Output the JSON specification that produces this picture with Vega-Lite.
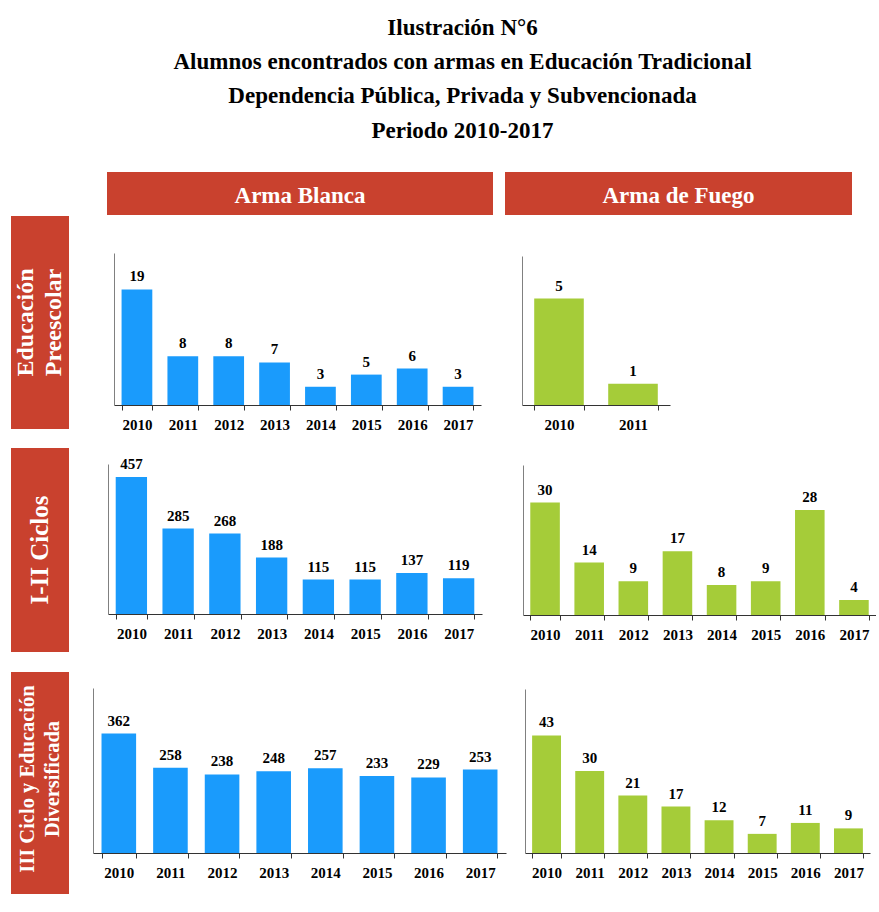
{
  "$schema": "https://vega.github.io/schema/vega-lite/v6.json",
  "padding": {"left": 11, "top": 0, "right": 0, "bottom": 0},
  "spacing": 0,
  "datasets": {
    "pb": [{"anio": 2010, "valor": 19}, {"anio": 2011, "valor": 8}, {"anio": 2012, "valor": 8}, {"anio": 2013, "valor": 7}, {"anio": 2014, "valor": 3}, {"anio": 2015, "valor": 5}, {"anio": 2016, "valor": 6}, {"anio": 2017, "valor": 3}],
    "pf": [{"anio": 2010, "valor": 5}, {"anio": 2011, "valor": 1}],
    "ib": [{"anio": 2010, "valor": 457}, {"anio": 2011, "valor": 285}, {"anio": 2012, "valor": 268}, {"anio": 2013, "valor": 188}, {"anio": 2014, "valor": 115}, {"anio": 2015, "valor": 115}, {"anio": 2016, "valor": 137}, {"anio": 2017, "valor": 119}],
    "if": [{"anio": 2010, "valor": 30}, {"anio": 2011, "valor": 14}, {"anio": 2012, "valor": 9}, {"anio": 2013, "valor": 17}, {"anio": 2014, "valor": 8}, {"anio": 2015, "valor": 9}, {"anio": 2016, "valor": 28}, {"anio": 2017, "valor": 4}],
    "tb": [{"anio": 2010, "valor": 362}, {"anio": 2011, "valor": 258}, {"anio": 2012, "valor": 238}, {"anio": 2013, "valor": 248}, {"anio": 2014, "valor": 257}, {"anio": 2015, "valor": 233}, {"anio": 2016, "valor": 229}, {"anio": 2017, "valor": 253}],
    "tf": [{"anio": 2010, "valor": 43}, {"anio": 2011, "valor": 30}, {"anio": 2012, "valor": 21}, {"anio": 2013, "valor": 17}, {"anio": 2014, "valor": 12}, {"anio": 2015, "valor": 7}, {"anio": 2016, "valor": 11}, {"anio": 2017, "valor": 9}],
    "empty": []
  },
  "vconcat": [
    {"spacing": 0, "hconcat": [
      {"width": 59, "height": 172, "data": {"name": "empty"}, "mark": "point"},
      {"width": 785, "height": 172,
       "data": {"values": [{"i": 1, "t": "Ilustración N°6"}, {"i": 2, "t": "Alumnos encontrados con armas en Educación Tradicional"}, {"i": 3, "t": "Dependencia Pública, Privada y Subvencionada"}, {"i": 4, "t": "Periodo 2010-2017"}]},
       "mark": {"type": "text", "font": "Liberation Serif", "fontWeight": "bold", "fontSize": 23, "color": "#000000"},
       "encoding": {"y": {"field": "i", "type": "ordinal", "scale": {"type": "point", "padding": 1.146, "align": 0.4}, "axis": null}, "text": {"field": "t", "type": "nominal"}}}
    ]},
    {"spacing": 0, "hconcat": [
      {"width": 96, "height": 44, "data": {"name": "empty"}, "mark": "point"},
      {"width": 386, "height": 43, "view": {"fill": "#c9412e", "stroke": null},
       "data": {"values": [{"t": "Arma Blanca"}]},
       "mark": {"type": "text", "font": "Liberation Serif", "fontWeight": "bold", "fontSize": 23, "color": "#ffffff", "dy": 2},
       "encoding": {"text": {"field": "t", "type": "nominal"}}},
      {"width": 12, "height": 1, "data": {"name": "empty"}, "mark": "point"},
      {"width": 347, "height": 43, "view": {"fill": "#c9412e", "stroke": null},
       "data": {"values": [{"t": "Arma de Fuego"}]},
       "mark": {"type": "text", "font": "Liberation Serif", "fontWeight": "bold", "fontSize": 23, "color": "#ffffff", "dy": 2},
       "encoding": {"text": {"field": "t", "type": "nominal"}}}
    ]},
    {"spacing": 0, "hconcat": [
      {"spacing": 0, "vconcat": [
        {"width": 58, "height": 213, "view": {"fill": "#c9412e", "stroke": null},
         "data": {"values": [{"t": ["Educación", "Preescolar"]}]},
         "mark": {"type": "text", "font": "Liberation Serif", "fontWeight": "bold", "fontSize": 24, "color": "#ffffff", "angle": 270, "lineHeight": 28, "dy": -14},
         "encoding": {"text": {"field": "t", "type": "nominal"}}},
        {"width": 1, "height": 19, "data": {"name": "empty"}, "mark": "point"}
      ]},
      {"width": 45, "height": 1, "data": {"name": "empty"}, "mark": "point"},
      {"spacing": 0, "vconcat": [
        {"width": 1, "height": 37, "data": {"name": "empty"}, "mark": "point"},
        {"width": 367, "height": 152, "data": {"name": "pb"},
         "encoding": {
           "x": {"field": "anio", "type": "ordinal", "title": null, "scale": {"paddingInner": 0.33, "paddingOuter": 0.165}},
           "y": {"field": "valor", "type": "quantitative", "title": null, "scale": {"domain": [0, 25], "nice": false}}},
         "layer": [
           {"mark": {"type": "bar", "color": "#1a9bfc"}},
           {"mark": {"type": "text", "dy": -8, "baseline": "alphabetic", "font": "Liberation Serif", "fontWeight": "bold", "fontSize": 15, "color": "#000000"}, "encoding": {"text": {"field": "valor", "type": "quantitative"}}}
         ]}
      ]},
      {"width": 41, "height": 1, "data": {"name": "empty"}, "mark": "point"},
      {"spacing": 0, "vconcat": [
        {"width": 1, "height": 40, "data": {"name": "empty"}, "mark": "point"},
        {"width": 148, "height": 149, "data": {"name": "pf"},
         "encoding": {
           "x": {"field": "anio", "type": "ordinal", "title": null, "scale": {"paddingInner": 0.33, "paddingOuter": 0.165}},
           "y": {"field": "valor", "type": "quantitative", "title": null, "scale": {"domain": [0, 7], "nice": false}}},
         "layer": [
           {"mark": {"type": "bar", "color": "#a5cc39"}},
           {"mark": {"type": "text", "dy": -8, "baseline": "alphabetic", "font": "Liberation Serif", "fontWeight": "bold", "fontSize": 15, "color": "#000000"}, "encoding": {"text": {"field": "valor", "type": "quantitative"}}}
         ]}
      ]}
    ]},
    {"spacing": 0, "hconcat": [
      {"spacing": 0, "vconcat": [
        {"width": 58, "height": 204, "view": {"fill": "#c9412e", "stroke": null},
         "data": {"values": [{"t": "I-II Ciclos"}]},
         "mark": {"type": "text", "font": "Liberation Serif", "fontWeight": "bold", "fontSize": 25, "color": "#ffffff", "angle": 270},
         "encoding": {"text": {"field": "t", "type": "nominal"}}},
        {"width": 1, "height": 20, "data": {"name": "empty"}, "mark": "point"}
      ]},
      {"width": 39, "height": 1, "data": {"name": "empty"}, "mark": "point"},
      {"spacing": 0, "vconcat": [
        {"width": 1, "height": 8, "data": {"name": "empty"}, "mark": "point"},
        {"width": 374, "height": 150, "data": {"name": "ib"},
         "encoding": {
           "x": {"field": "anio", "type": "ordinal", "title": null, "scale": {"paddingInner": 0.33, "paddingOuter": 0.165}},
           "y": {"field": "valor", "type": "quantitative", "title": null, "scale": {"domain": [0, 500], "nice": false}}},
         "layer": [
           {"mark": {"type": "bar", "color": "#1a9bfc"}},
           {"mark": {"type": "text", "dy": -8, "baseline": "alphabetic", "font": "Liberation Serif", "fontWeight": "bold", "fontSize": 15, "color": "#000000"}, "encoding": {"text": {"field": "valor", "type": "quantitative"}}}
         ]}
      ]},
      {"width": 41, "height": 1, "data": {"name": "empty"}, "mark": "point"},
      {"spacing": 0, "vconcat": [
        {"width": 1, "height": 17, "data": {"name": "empty"}, "mark": "point"},
        {"width": 353, "height": 150, "data": {"name": "if"},
         "encoding": {
           "x": {"field": "anio", "type": "ordinal", "title": null, "scale": {"paddingInner": 0.33, "paddingOuter": 0.165}},
           "y": {"field": "valor", "type": "quantitative", "title": null, "scale": {"domain": [0, 40], "nice": false}}},
         "layer": [
           {"mark": {"type": "bar", "color": "#a5cc39"}},
           {"mark": {"type": "text", "dy": -8, "baseline": "alphabetic", "font": "Liberation Serif", "fontWeight": "bold", "fontSize": 15, "color": "#000000"}, "encoding": {"text": {"field": "valor", "type": "quantitative"}}}
         ]}
      ]}
    ]},
    {"spacing": 0, "hconcat": [
      {"width": 58, "height": 222, "view": {"fill": "#c9412e", "stroke": null},
       "data": {"values": [{"t": ["III Ciclo y Educación", "Diversificada"]}]},
       "mark": {"type": "text", "font": "Liberation Serif", "fontWeight": "bold", "fontSize": 20.5, "color": "#ffffff", "angle": 270, "lineHeight": 25, "dy": -12.5, "dx": 4},
       "encoding": {"text": {"field": "t", "type": "nominal"}}},
      {"width": 24, "height": 1, "data": {"name": "empty"}, "mark": "point"},
      {"spacing": 0, "vconcat": [
        {"width": 1, "height": 16, "data": {"name": "empty"}, "mark": "point"},
        {"width": 413, "height": 165, "data": {"name": "tb"},
         "encoding": {
           "x": {"field": "anio", "type": "ordinal", "title": null, "scale": {"paddingInner": 0.33, "paddingOuter": 0.165}},
           "y": {"field": "valor", "type": "quantitative", "title": null, "scale": {"domain": [0, 500], "nice": false}}},
         "layer": [
           {"mark": {"type": "bar", "color": "#1a9bfc"}},
           {"mark": {"type": "text", "dy": -8, "baseline": "alphabetic", "font": "Liberation Serif", "fontWeight": "bold", "fontSize": 15, "color": "#000000"}, "encoding": {"text": {"field": "valor", "type": "quantitative"}}}
         ]}
      ]},
      {"width": 19, "height": 1, "data": {"name": "empty"}, "mark": "point"},
      {"spacing": 0, "vconcat": [
        {"width": 1, "height": 17, "data": {"name": "empty"}, "mark": "point"},
        {"width": 345, "height": 164, "data": {"name": "tf"},
         "encoding": {
           "x": {"field": "anio", "type": "ordinal", "title": null, "scale": {"paddingInner": 0.33, "paddingOuter": 0.165}},
           "y": {"field": "valor", "type": "quantitative", "title": null, "scale": {"domain": [0, 60], "nice": false}}},
         "layer": [
           {"mark": {"type": "bar", "color": "#a5cc39"}},
           {"mark": {"type": "text", "dy": -8, "baseline": "alphabetic", "font": "Liberation Serif", "fontWeight": "bold", "fontSize": 15, "color": "#000000"}, "encoding": {"text": {"field": "valor", "type": "quantitative"}}}
         ]}
      ]}
    ]}
  ],
  "config": {
    "view": {"stroke": null},
    "font": "Liberation Serif",
    "axisX": {"labelAngle": 0, "tickBand": "extent", "tickSize": 5, "labelFont": "Liberation Serif", "labelFontWeight": "bold", "labelFontSize": 15, "labelColor": "#000000", "labelPadding": 7, "domainColor": "#333333", "tickColor": "#333333", "grid": false},
    "axisY": {"labels": false, "ticks": false, "grid": false, "domainColor": "#808080"}
  }
}
